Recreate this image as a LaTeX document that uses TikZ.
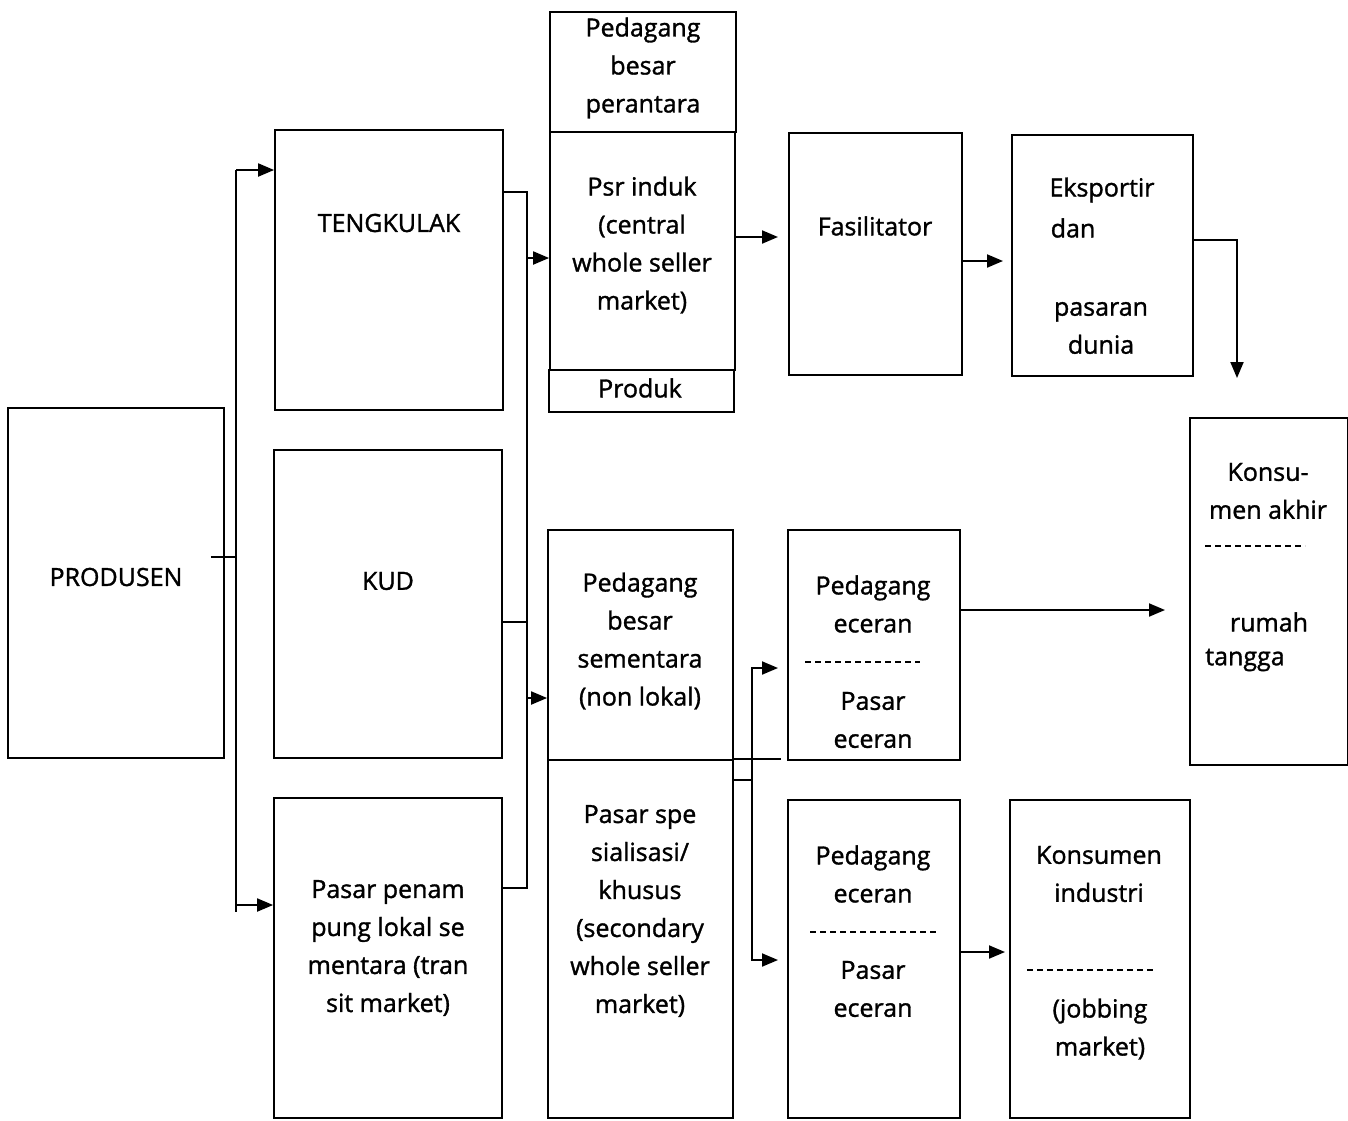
\documentclass[tikz,border=0pt]{standalone}
\usepackage{fontspec}
\setmainfont{Open Sans}
\newfontfamily\lblfont{Open Sans}[FakeBold=1.3]
\usetikzlibrary{arrows.meta}
\begin{document}
\begin{tikzpicture}[x=1pt,y=-1pt,
 box/.style={draw,line width=1.8pt,inner sep=0pt},
 lbl/.style={font=\lblfont\fontsize{25}{38}\selectfont,align=center,inner sep=0pt},
 conn/.style={line width=2pt},
 arr/.style={line width=2pt,-{Triangle[length=16pt,width=13pt]}},
 dsh/.style={line width=1.6pt,dash pattern=on 6pt off 4pt}]
\useasboundingbox (0,0) rectangle (1348,1120);
% boxes
\node[box,minimum width=216pt,minimum height=350pt] (prod) at (116,583) {};
\node[box,minimum width=228pt,minimum height=280pt] (teng) at (389,270) {};
\node[box,minimum width=228pt,minimum height=308pt] (kud) at (388,604) {};
\node[box,minimum width=228pt,minimum height=320pt] (pasar) at (388,958) {};
\node[box,minimum width=186pt,minimum height=120pt] (ppb) at (643,72) {};
\node[box,minimum width=185pt,minimum height=238pt] (induk) at (642.5,251) {};
\node[box,minimum width=185pt,minimum height=42pt] (produk) at (641.5,391) {};
\node[box,minimum width=185pt,minimum height=230pt] (pbs) at (640.5,645) {};
\node[box,minimum width=185pt,minimum height=358pt] (spe) at (640.5,939) {};
\node[box,minimum width=173pt,minimum height=242pt] (fas) at (875.5,254) {};
\node[box,minimum width=172pt,minimum height=230pt] (pe1) at (874,645) {};
\node[box,minimum width=172pt,minimum height=318pt] (pe2) at (874,959) {};
\node[box,minimum width=181pt,minimum height=241pt] (eks) at (1102.5,255.5) {};
\node[box,minimum width=180pt,minimum height=318pt] (ki) at (1100,959) {};
\node[box,minimum width=158pt,minimum height=347pt] (ka) at (1269,591.5) {};
% texts
\node[lbl] (tprod) at (116,577) {PRODUSEN};
\node[lbl] (tteng) at (389,223) {TENGKULAK};
\node[lbl] (tkud) at (388,581) {KUD};
\node[lbl] (tpasar) at (388,948) {Pasar penam\\pung lokal se\\mentara (tran\\sit market)};
\node[lbl] (tppb) at (643,68) {Pedagang\\besar\\perantara};
\node[lbl] (tinduk) at (642,245) {Psr induk\\(central\\whole seller\\market)};
\node[lbl] (tprodk) at (640,388) {Produk};
\node[lbl] (tpbs) at (640,641) {Pedagang\\besar\\sementara\\(non lokal)};
\node[lbl] (tspe) at (640,911) {Pasar spe\\sialisasi/\\khusus\\(secondary\\whole seller\\market)};
\node[lbl] (tfas) at (875,226) {Fasilitator};
\node[lbl] (tpe1a) at (873,604) {Pedagang\\eceran};
\node[lbl] (tpe1b) at (873,720) {Pasar\\eceran};
\node[lbl] (tpe2a) at (873,874) {Pedagang\\eceran};
\node[lbl] (tpe2b) at (873,989) {Pasar\\eceran};
\node[lbl] (tkia) at (1099,874) {Konsumen\\industri};
\node[lbl] (tkib) at (1100,1029) {(jobbing\\market)};
\node[lbl] (teks1) at (1102,190) {Eksportir};
\node[lbl] (teks2) at (1073,228) {dan};
\node[lbl] (teks3) at (1101,328) {pasaran\\dunia};
\node[lbl] (tka1) at (1268,491) {Konsu-\\men akhir};
\node[lbl] (tka2) at (1269,622) {rumah};
\node[lbl] (tka3) at (1245,660) {tangga};
% dashed separators
\draw[dsh] (805,662) -- (920,662);
\draw[dsh] (810,932) -- (938,932);
\draw[dsh] (1027,970) -- (1155,970);
\draw[dsh] (1205,546) -- (1305,546);
% left bus
\coordinate (b1) at (236,170);
\coordinate (b2) at (236,912);
\coordinate (b3) at (236,905);
\coordinate (bp) at (236,557);
\draw[conn] (b1) -- (b2);
\draw[arr] (b1) -- (teng.west |- b1);
\draw[arr] (b3) -- (pasar.west |- b3);
\draw[conn] (prod.east |- bp) ++(-14,0) -- (bp);
% right bus
\coordinate (r1) at (527,192);
\coordinate (r2) at (527,888);
\coordinate (r3) at (527,622);
\coordinate (r4) at (527,258);
\coordinate (r5) at (527,698);
\draw[conn] (teng.east |- r1) -- (r1) -- (r2) -- (pasar.east |- r2);
\draw[conn] (kud.east |- r3) -- (r3);
\draw[arr] (r4) -- (induk.west |- r4);
\draw[arr] (r5) -- (pbs.west |- r5);
% upper flows
\coordinate (a1) at (778,237);
\coordinate (a2) at (1003,261);
\coordinate (a3) at (1237,240);
\coordinate (a4) at (1237,378);
\coordinate (a5) at (1165,610);
\coordinate (a6) at (1005,952);
\draw[arr] (induk.east |- a1) -- (a1);
\draw[arr] (fas.east |- a2) -- (a2);
\draw[arr] (eks.east |- a3) -- (a3) -- (a4);
\draw[arr] (pe1.east |- a5) -- (a5);
\draw[arr] (pe2.east |- a6) -- (a6);
% from specialised market
\coordinate (s1) at (752,780);
\coordinate (s2) at (752,668);
\coordinate (s3) at (752,960);
\coordinate (s4) at (778,668);
\coordinate (s5) at (778,960);
\draw[conn] (spe.east |- s1) -- (s1);
\draw[arr] (s1) -- (s2) -- (s4);
\draw[arr] (s1) -- (s3) -- (s5);
\draw[conn] (spe.north east) -- ++(47,0);
\end{tikzpicture}
\end{document}
